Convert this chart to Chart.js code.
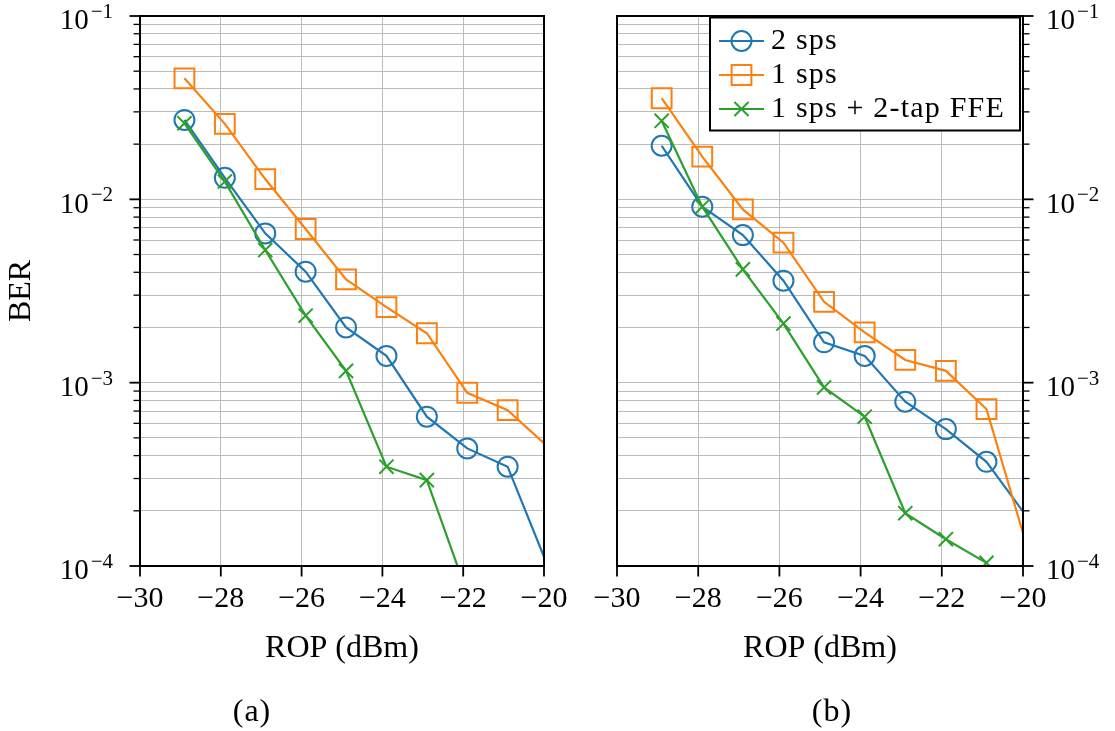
<!DOCTYPE html>
<html>
<head>
<meta charset="utf-8">
<script src="https://cdn.jsdelivr.net/npm/chart.js@4.4.1/dist/chart.umd.min.js"></script>
<style>
  html, body { margin: 0; padding: 0; background: #fff; }
  #wrap { position: relative; width: 1115px; height: 731px; overflow: hidden; }
  canvas { position: absolute; top: 0; }
  #panelA { left: 0; }
  #panelB { left: 580px; }
  .caption {
    position: absolute; top: 692px; line-height: 38px;
    font: 32px "Liberation Serif", serif; color: #000; letter-spacing: 1px;
    transform: translateX(-50%); white-space: nowrap;
  }
</style>
</head>
<body>
<div id="wrap">
  <canvas id="panelA" width="580" height="731"></canvas>
  <canvas id="panelB" width="535" height="731"></canvas>
  <div class="caption" style="left:252px">(a)</div>
  <div class="caption" style="left:832px">(b)</div>
</div>
<script>
// Received optical power (dBm) of each measurement
const ropDbm = [-28.9, -27.9, -26.9, -25.9, -24.9, -23.9, -22.9, -21.9, -20.9, -19.9];

// Panel (a) BER curves
const berA2sps    = [0.0271, 0.0131, 0.00652, 0.00403, 0.00200, 0.00140, 0.000652, 0.000438, 0.000348, 0.000099];
const berA1sps    = [0.0457, 0.0258, 0.0129, 0.00689, 0.00366, 0.00258, 0.00186, 0.000881, 0.000708, 0.000446];
const berA1spsFfe = [0.0260, 0.0125, 0.00529, 0.00232, 0.00116, 0.000348, 0.000294, 0.000071];

// Panel (b) BER curves
const berB2sps    = [0.0196, 0.00912, 0.00638, 0.00360, 0.00166, 0.00140, 0.000787, 0.000558, 0.000370, 0.000185];
const berB1sps    = [0.0356, 0.0171, 0.00881, 0.00580, 0.00276, 0.00188, 0.00133, 0.00116, 0.000718, 0.000127];
const berB1spsFfe = [0.0268, 0.00912, 0.00415, 0.00210, 0.000942, 0.000652, 0.000194, 0.000140, 0.000104];

const seriesNames  = ['2 sps', '1 sps', '1 sps + 2-tap FFE'];
const seriesColors = ['#1f77b4', '#ff7f0e', '#2ca02c'];
const markerStyles = ['circle', 'rect', 'crossRot'];
const markerRadii  = [10, 14, 10];

// Axis ticks
const xTicks      = [-30, -28, -26, -24, -22, -20];
const xTickLabels = ['\u221230', '\u221228', '\u221226', '\u221224', '\u221222', '\u221220'];
const yDecades    = [-4, -3, -2, -1];
const yTickLabels = ['\u22124', '\u22123', '\u22122', '\u22121'];
const yMinorSteps = [2, 3, 4, 5, 6, 7, 8, 9];

const X_MIN = -30, X_MAX = -20, Y_MIN = 1e-4, Y_MAX = 1e-1;
const SERIF = '"Liberation Serif", serif';
const GRID = '#bcbcbc';

function logTicks() {
  const out = [];
  yDecades.forEach((d, i) => {
    const base = Math.pow(10, d);
    out.push({ value: base, major: true, sup: yTickLabels[i] });
    if (i < yDecades.length - 1) {
      yMinorSteps.forEach(m => out.push({ value: +(m * base).toPrecision(3), major: false }));
    }
  });
  return out;
}

function drawMarker(ctx, style, r, x, y) {
  ctx.beginPath();
  if (style === 'circle') {
    ctx.arc(x, y, r, 0, Math.PI * 2);
  } else if (style === 'rect') {
    const h = r * Math.SQRT1_2;
    ctx.rect(x - h, y - h, 2 * h, 2 * h);
  } else {
    const h = r * Math.SQRT1_2;
    ctx.moveTo(x - h, y - h); ctx.lineTo(x + h, y + h);
    ctx.moveTo(x - h, y + h); ctx.lineTo(x + h, y - h);
  }
  ctx.stroke();
}

// Tick marks, power-of-ten labels, axes frame and legend box
const panelDecor = {
  id: 'panelDecor',
  afterDatasetsDraw(chart, args, opts) {
    const { ctx, chartArea: a, scales: { x, y } } = chart;
    const onRight = opts.side === 'right';
    ctx.save();
    ctx.strokeStyle = '#000';
    ctx.lineCap = 'butt';

    // x ticks
    ctx.lineWidth = 1.8;
    xTicks.forEach(v => {
      const px = x.getPixelForValue(v);
      ctx.beginPath(); ctx.moveTo(px, a.bottom); ctx.lineTo(px, a.bottom + 10.5); ctx.stroke();
    });

    // y ticks (major + minor)
    const edge = onRight ? a.right : a.left;
    const dir = onRight ? 1 : -1;
    y.ticks.forEach(t => {
      const py = y.getPixelForValue(t.value);
      ctx.lineWidth = t.major ? 1.8 : 1.3;
      const len = t.major ? 10.5 : 6.5;
      ctx.beginPath(); ctx.moveTo(edge, py); ctx.lineTo(edge + dir * len, py); ctx.stroke();
    });

    // y labels 10^k
    ctx.letterSpacing = '0px';
    ctx.fillStyle = '#000';
    ctx.textAlign = 'left';
    ctx.textBaseline = 'alphabetic';
    y.ticks.filter(t => t.major).forEach(t => {
      const py = y.getPixelForValue(t.value);
      ctx.font = '21px ' + SERIF;
      const supW = ctx.measureText(t.sup).width;
      ctx.font = '29px ' + SERIF;
      const baseW = ctx.measureText('10').width;
      const x0 = onRight ? a.right + 23 : a.left - 27 - supW - baseW - 2;
      ctx.fillText('10', x0, py + 13.2);
      ctx.font = '21px ' + SERIF;
      ctx.fillText(t.sup, x0 + baseW + 2, py + 2);
    });

    // frame
    ctx.lineWidth = 2;
    ctx.strokeRect(a.left, a.top, a.right - a.left, a.bottom - a.top);

    // legend
    if (opts.legend) {
      ctx.letterSpacing = '1.2px';
      ctx.font = '30px ' + SERIF;
      const textW = Math.max(...seriesNames.map(n => ctx.measureText(n).width));
      const boxW = 61 + textW + 15, boxH = 113;
      const bx = a.right - 3 - boxW, by = a.top + 1.5;
      ctx.fillStyle = '#fff';
      ctx.fillRect(bx, by, boxW, boxH);
      ctx.lineWidth = 2;
      ctx.strokeStyle = '#000';
      ctx.strokeRect(bx, by, boxW, boxH);
      const rows = [23.5, 57.5, 91.5];
      chart.data.datasets.forEach((ds, i) => {
        const cy = by + rows[i];
        ctx.strokeStyle = ds.borderColor;
        ctx.lineWidth = ds.borderWidth;
        ctx.beginPath(); ctx.moveTo(bx + 9, cy); ctx.lineTo(bx + 54, cy); ctx.stroke();
        ctx.lineWidth = ds.pointBorderWidth;
        drawMarker(ctx, markerStyles[i], markerRadii[i], bx + 31.5, cy);
        ctx.fillStyle = '#000';
        ctx.textBaseline = 'middle';
        ctx.fillText(ds.label, bx + 61, cy);
      });
    }
    ctx.restore();
  }
};

function makePanel(canvasId, curves, side, withLegend) {
  const canvas = document.getElementById(canvasId);
  // slightly open letter spacing for all axis text on this canvas
  canvas.getContext('2d').letterSpacing = '1.3px';

  const datasets = curves.map((ys, i) => ({
    label: seriesNames[i],
    data: ys.map((v, j) => ({ x: ropDbm[j], y: v })),
    borderColor: seriesColors[i],
    backgroundColor: 'rgba(0,0,0,0)',
    borderWidth: 2.2,
    pointStyle: markerStyles[i],
    // markers only for measurements inside the plotted window
    pointRadius: c => {
      const p = c.raw;
      return (p && p.x <= X_MAX && p.y >= Y_MIN) ? markerRadii[i] : 0;
    },
    pointHoverRadius: 0,
    pointBorderWidth: 2,
    pointBorderColor: seriesColors[i],
    pointBackgroundColor: 'rgba(0,0,0,0)',
    tension: 0,
    clip: 0,
    order: 3 - i
  }));

  const pad = side === 'left'
    ? { left: 0, right: 36, top: 16, bottom: 55 }
    : { left: 37, right: 0, top: 16, bottom: 55 };

  return new Chart(canvas, {
    type: 'line',
    data: { datasets },
    plugins: [panelDecor],
    options: {
      responsive: false,
      animation: false,
      devicePixelRatio: 1,
      events: [],
      layout: { padding: pad },
      plugins: {
        legend: { display: false },
        tooltip: { enabled: false },
        panelDecor: { side, legend: withLegend }
      },
      scales: {
        x: {
          type: 'linear', min: X_MIN, max: X_MAX,
          afterBuildTicks: s => { s.ticks = xTicks.map(v => ({ value: v })); },
          grid: { color: GRID, lineWidth: 1, drawTicks: false },
          border: { display: false },
          ticks: {
            font: { family: SERIF, size: 30, lineHeight: 1.2 }, color: '#000',
            padding: 15.5, maxRotation: 0, autoSkip: false,
            callback: v => xTickLabels[xTicks.indexOf(v)]
          },
          title: {
            display: true, text: 'ROP (dBm)', color: '#000',
            font: { family: SERIF, size: 32, lineHeight: 1.2 },
            padding: { top: 0, bottom: 7.8 }
          },
          // fixed axis band; end labels may overhang into the layout padding
          afterFit: s => { s.height = 110; s.paddingLeft = 0; s.paddingRight = 0; }
        },
        y: {
          type: 'logarithmic', position: side, min: Y_MIN, max: Y_MAX,
          afterBuildTicks: s => { s.ticks = logTicks(); },
          grid: { color: GRID, lineWidth: 1, drawTicks: false },
          border: { display: false },
          ticks: { display: false },
          title: side === 'left'
            ? { display: true, text: 'BER', color: '#000',
                font: { family: SERIF, size: 32, lineHeight: 1.2 },
                padding: { top: 2.8, bottom: 0 } }
            : { display: false },
          afterFit: s => { s.width = side === 'left' ? 140 : 92; }
        }
      }
    }
  });
}

function build() {
  makePanel('panelA', [berA2sps, berA1sps, berA1spsFfe], 'left', false);
  makePanel('panelB', [berB2sps, berB1sps, berB1spsFfe], 'right', true);
}

if (document.fonts && document.fonts.load) {
  Promise.all([
    document.fonts.load('29px "Liberation Serif"'),
    document.fonts.load('32px "Liberation Serif"')
  ]).then(build, build);
} else {
  build();
}
</script>
</body>
</html>
